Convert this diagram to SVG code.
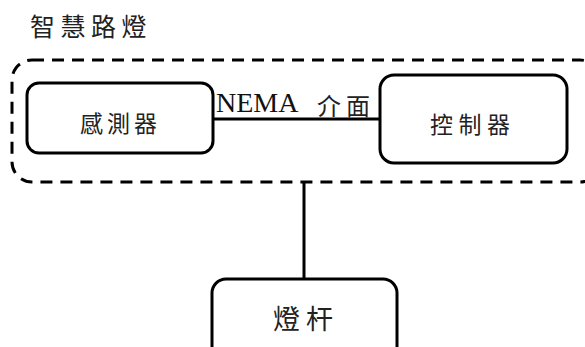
<svg xmlns="http://www.w3.org/2000/svg" width="585" height="347" viewBox="0 0 585 347">
<style>
.box{fill:#fff;stroke:#000;stroke-width:3}
.cjk{font-family:"Noto Sans CJK TC","Noto Sans CJK SC",sans-serif;fill:#222}
.line{stroke:#000;stroke-width:3;fill:none}
</style>
<rect width="585" height="347" fill="#fff"/>
<text class="cjk" x="30" y="25" font-size="25" letter-spacing="5.5" dominant-baseline="central">智慧路燈</text>
<g id="group-smart-streetlight">
<rect x="12" y="60" width="588" height="122" rx="20" ry="20" fill="none" stroke="#000" stroke-width="3" stroke-dasharray="12 8"/>
</g>
<g id="connectors">
<line class="line" x1="213" y1="119" x2="380" y2="119"/>
<line class="line" x1="304" y1="182" x2="304" y2="279"/>
<text x="216" y="112" font-family="'Liberation Serif',serif" font-size="28" fill="#111">NEMA</text>
<text class="cjk" x="317" y="104" font-size="24" letter-spacing="5" dominant-baseline="central">介面</text>
</g>
<g id="sensor">
<rect class="box" x="27" y="83" width="186" height="70" rx="12"/>
<text class="cjk" x="80" y="122" font-size="23" letter-spacing="4" dominant-baseline="central">感測器</text>
</g>
<g id="controller">
<rect class="box" x="380" y="75" width="187" height="88" rx="14"/>
<text class="cjk" x="430" y="123" font-size="23" letter-spacing="5.5" dominant-baseline="central">控制器</text>
</g>
<g id="pole">
<rect class="box" x="212" y="279" width="185" height="90" rx="14"/>
<text class="cjk" x="273" y="317" font-size="27" letter-spacing="6" dominant-baseline="central">燈杆</text>
</g>
</svg>
